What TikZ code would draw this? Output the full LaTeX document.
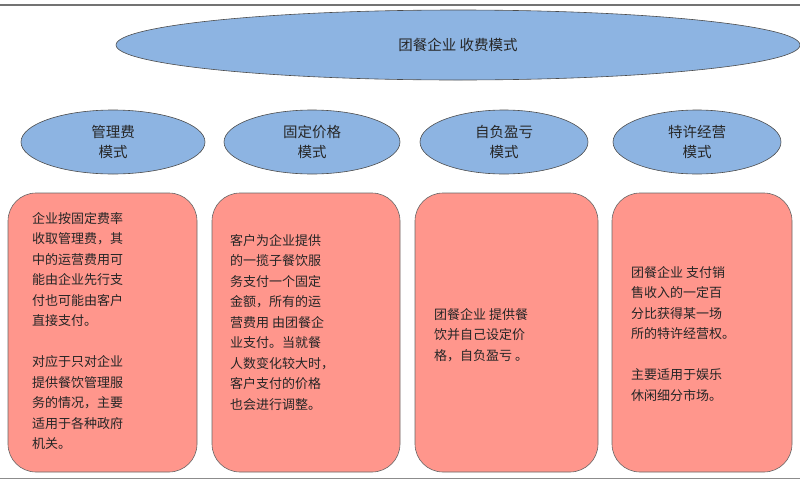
\documentclass[tikz,border=0pt]{standalone}
\usepackage{fontspec}
\newfontfamily\cjk{Noto Sans CJK SC}
\definecolor{ellc}{RGB}{141,180,226}
\definecolor{boxc}{RGB}{255,150,140}
\begin{document}
\begin{tikzpicture}[x=1pt,y=-1pt,
 ell/.style={draw=black!70,fill=ellc,line width=0.6pt},
 box/.style={draw=black!60,fill=boxc,rounded corners=28pt,line width=0.6pt},
 txt/.style={font=\cjk\fontsize{13}{20.5}\selectfont,align=left,anchor=north west,inner sep=0pt,text=black!85},
 ttl/.style={font=\cjk\fontsize{14.5}{20}\selectfont,align=center,text=black!85}]
\useasboundingbox (0,0) rectangle (800,485);
\draw[black!55,line width=1.2pt] (0,5) -- (800,5);
\draw[black!45,line width=1pt] (0,478) -- (800,478);
\draw[ell] (458,45) circle [x radius=342, y radius=35];
\node[ttl] (t) at (458,45) {团餐企业 收费模式};
\foreach \n/\cx/\rx/\lab in {a/113/92/{管理费\\模式}, b/312/88/{固定价格\\模式}, c/504/84/{自负盈亏\\模式}, d/697/84/{特许经营\\模式}}{
 \draw[ell] (\cx,142) circle [x radius=\rx, y radius=32];
 \node[ttl] (\n) at (\cx,142) {\lab};
}
\foreach \n/\xa/\xb in {A/8/197, B/212/400, C/415/598, D/612/792}{
 \draw[box] (\xa,193) rectangle (\xb,472);
 \coordinate (\n) at (\xa,193);
}
\node[txt] (ta) at (32,212) {企业按固定费率\\收取管理费，其\\中的运营费用可\\能由企业先行支\\付也可能由客户\\直接支付。\\[20.5pt]对应于只对企业\\提供餐饮管理服\\务的情况，主要\\适用于各种政府\\机关。};
\node[txt] (tb) at (230,234) {客户为企业提供\\的一揽子餐饮服\\务支付一个固定\\金额，所有的运\\营费用 由团餐企\\业支付。当就餐\\人数变化较大时，\\客户支付的价格\\也会进行调整。};
\node[txt] (tc) at (434,308) {团餐企业 提供餐\\饮并自己设定价\\格，自负盈亏 。};
\node[txt] (td) at (631,266) {团餐企业 支付销\\售收入的一定百\\分比获得某一场\\所的特许经营权。\\[20.5pt]主要适用于娱乐\\休闲细分市场。};
\end{tikzpicture}
\end{document}
